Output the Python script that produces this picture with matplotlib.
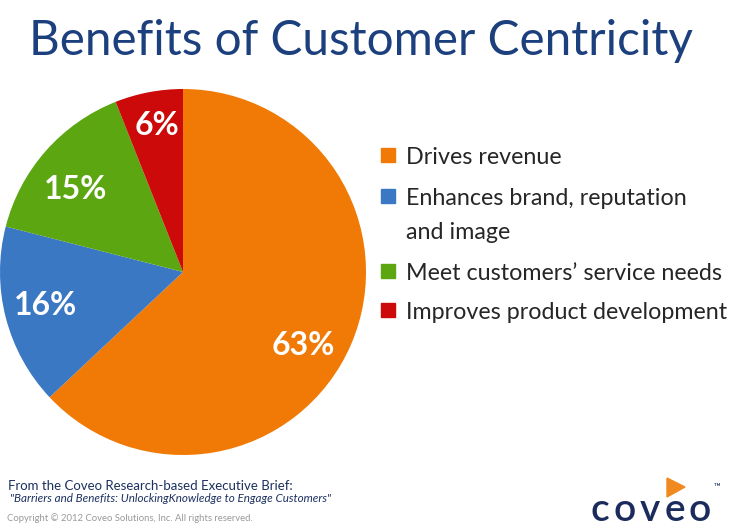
import numpy as np
import matplotlib.pyplot as plt
from matplotlib.patches import Rectangle, Polygon

# data
categories = ['Drives revenue', 'Enhances brand, reputation\nand image',
              "Meet customers\u2019 service needs", 'Improves product development']
shares = [63, 16, 15, 6]
colors = ['#F07A05', '#3B78C3', '#5CA612', '#CC0A0A']
title = 'Benefits of Customer Centricity'
W, H = 736, 532

fig = plt.figure(figsize=(W / 100, H / 100), dpi=100)
fig.patch.set_facecolor('white')
renderer = fig.canvas.get_renderer()


def fit_width(t, px):
    # shrink/grow a text so its width matches px pixels
    w = t.get_window_extent(renderer).width
    t.set_fontsize(t.get_fontsize() * px / w)


# pie axes, placed in pixels
cx, cy, r = 183, 272, 183
ax = fig.add_axes([(cx - r) / W, (H - cy - r) / H, 2 * r / W, 2 * r / H])
wedges, _ = ax.pie(shares, colors=colors, startangle=90, counterclock=False,
                   radius=1, wedgeprops=dict(linewidth=0))
ax.set_xlim(-1, 1)
ax.set_ylim(-1, 1)
ax.set_aspect('equal')
ax.axis('off')

# percent labels
lab_dist = [0.76, 0.77, 0.75, 0.83]
lab_shift = [-7, -2, 3, -1]
for w, s, d, sh in zip(wedges, shares, lab_dist, lab_shift):
    a = np.deg2rad((w.theta1 + w.theta2) / 2 + sh)
    ax.text(d * np.cos(a), d * np.sin(a) - 0.015, f'{s}%', color='white', fontsize=23,
            fontweight='bold', family='Lato', ha='center', va='center')

t = fig.text(361 / W, 1 - 41 / H, title, fontsize=40, color='#1C3F7E',
             family='Lato', ha='center', va='center')
fit_width(t, 663)

# legend
row_y = [157, 198, 273, 312]
leg_texts = []
for lab, c, y in zip(categories, colors, row_y):
    fig.patches.append(Rectangle((381 / W, 1 - (y + 5) / H), 14 / W, 14 / H,
                                 transform=fig.transFigure, color=c))
    leg_texts.append(fig.text(406 / W, 1 - (y - 10) / H, lab, fontsize=19,
                              color='#262626', family='Lato', ha='left',
                              va='top', linespacing=1.75))
fit_width(leg_texts[3], 321)
for lt in leg_texts[:3]:
    lt.set_fontsize(leg_texts[3].get_fontsize())

# footer
fig.text(8 / W, 1 - 486 / H, 'From the Coveo Research-based Executive Brief:',
         fontsize=9.5, color='#1C3060', family='Lato', va='center')
t = fig.text(10 / W, 1 - 499 / H,
             '"Barriers and Benefits: UnlockingKnowledge to Engage Customers"',
             fontsize=9.5, color='#1C3060', family='Lato', style='italic', va='center')
fit_width(t, 323)
t = fig.text(7 / W, 1 - 518 / H,
             'Copyright \u00a9 2012 Coveo Solutions, Inc. All rights reserved.',
             fontsize=7.5, color='#999999', family='Lato', va='center')
fit_width(t, 243)

# logo, one letter at a time for the wide tracking
for i, ch in enumerate('coveo'):
    fig.text((600 + 25 * i) / W, 1 - 510 / H, ch, fontsize=28, color='#1A2B5C',
             family='Lato', fontweight='semibold', ha='center', va='center')
fig.text(714 / W, 1 - 487 / H, '\u2122', fontsize=6.5, color='#1A2B5C',
         family='Lato', va='center')
fig.patches.append(Polygon([(667 / W, 1 - 478 / H), (667 / W, 1 - 497 / H),
                            (685 / W, 1 - 487 / H)], closed=True,
                           transform=fig.transFigure, color='#F08A20'))

fig.savefig('out.png', dpi=100)
